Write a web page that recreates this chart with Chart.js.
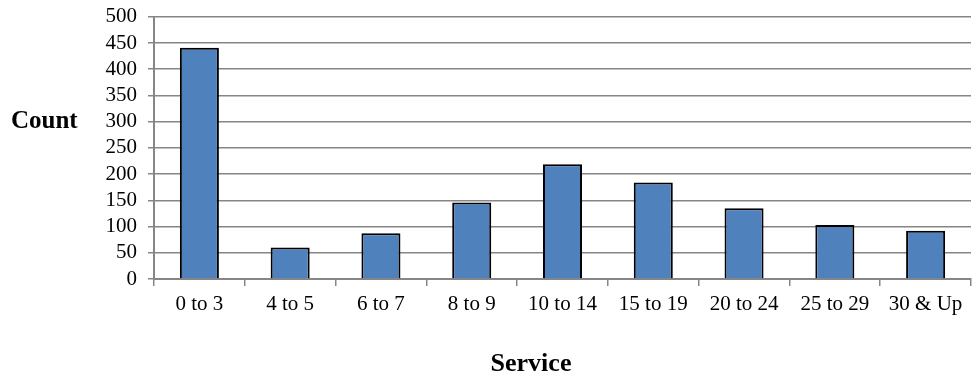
<!DOCTYPE html>
<html>
<head>
<meta charset="utf-8">
<script src="https://cdn.jsdelivr.net/npm/chart.js@4/dist/chart.umd.min.js"></script>
<style>
  html, body { margin: 0; padding: 0; background: #ffffff; }
  #wrap { width: 972px; height: 375px; position: relative; }
</style>
</head>
<body>
<div id="wrap"><canvas id="chart"></canvas></div>
<script>
// Employee count by years of service
const categories = ['0 to 3', '4 to 5', '6 to 7', '8 to 9', '10 to 14', '15 to 19', '20 to 24', '25 to 29', '30 & Up'];
const counts = [441, 60, 87, 146, 219, 184, 135, 103, 92];
const yTicks = [0, 50, 100, 150, 200, 250, 300, 350, 400, 450, 500];
const yTitle = 'Count';
const xTitle = 'Service';

const SERIF = '"Liberation Serif", "Times New Roman", serif';
const GRID = '#868686';

// Axis titles drawn horizontally: "Count" left of the value axis, "Service" under the category labels
const axisTitles = {
  id: 'axisTitles',
  afterDraw(chart) {
    const ctx = chart.ctx;
    ctx.save();
    ctx.fillStyle = '#000000';
    ctx.textBaseline = 'alphabetic';
    ctx.font = 'bold 25px ' + SERIF;
    ctx.textAlign = 'left';
    ctx.fillText(yTitle, 11, 128);
    ctx.font = 'bold 26px ' + SERIF;
    ctx.textAlign = 'center';
    ctx.fillText(xTitle, 531, 371);
    ctx.restore();
  }
};

new Chart(document.getElementById('chart'), {
  type: 'bar',
  data: {
    labels: categories,
    datasets: [{
      data: counts,
      backgroundColor: '#4F81BD',
      borderColor: '#000000',
      borderWidth: 2,
      barPercentage: 1,
      categoryPercentage: 0.43
    }]
  },
  options: {
    responsive: true,
    maintainAspectRatio: false,
    animation: false,
    layout: { padding: { top: 0, right: 1, left: 0, bottom: 0 } },
    plugins: {
      legend: { display: false },
      tooltip: { enabled: false }
    },
    scales: {
      x: {
        grid: {
          offset: true,
          drawOnChartArea: false,
          drawTicks: true,
          tickLength: 7,
          color: GRID,
          lineWidth: 1.5
        },
        border: { color: GRID, width: 2 },
        ticks: {
          color: '#000000',
          font: { family: SERIF, size: 21 },
          padding: 6,
          maxRotation: 0,
          autoSkip: false
        },
        afterFit(scale) { scale.height = 96; }
      },
      y: {
        min: 0,
        max: 500,
        afterBuildTicks(scale) { scale.ticks = yTicks.map(v => ({ value: v })); },
        grid: {
          color: GRID,
          lineWidth: 1.5,
          tickLength: 6,
          drawTicks: true
        },
        border: { color: GRID, width: 2 },
        ticks: {
          color: '#000000',
          font: { family: SERIF, size: 21, lineHeight: 0.55 },
          padding: 11,
          autoSkip: false
        },
        afterFit(scale) { scale.width = 154; }
      }
    }
  },
  plugins: [axisTitles]
});
</script>
</body>
</html>
